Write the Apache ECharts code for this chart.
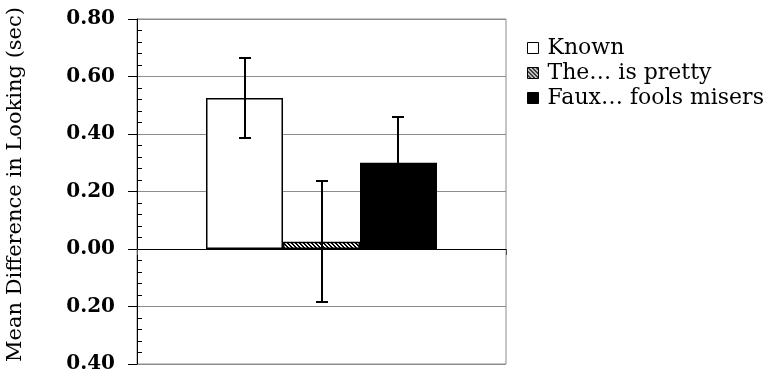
<!DOCTYPE html>
<html><head><meta charset="utf-8">
<script src="https://cdn.jsdelivr.net/npm/echarts@6/dist/echarts.min.js"></script>
<style>html,body{margin:0;padding:0;background:#fff}#c{width:783px;height:376px}</style>
</head><body><div id="c"></div>
<script>
const categories = [''];
const seriesNames = ['Known', 'The… is pretty', 'Faux… fools misers'];
const means = [0.525, 0.025, 0.30];
const errors = [0.14, 0.21, 0.16];
const yMin = -0.4, yMax = 0.8, yStep = 0.2;
const axisTitle = 'Mean Difference in Looking (sec)';

function hatchCanvas() {
  const c = document.createElement('canvas'); c.width = 4; c.height = 4;
  const ctx = c.getContext('2d');
  ctx.fillStyle = '#fff'; ctx.fillRect(0, 0, 4, 4);
  ctx.fillStyle = '#000';
  for (let y = 0; y < 4; y++) for (let x = 0; x < 4; x++) {
    if ((((x - y) % 4) + 4) % 4 < 2) ctx.fillRect(x, y, 1, 1);
  }
  return c;
}
const fills = ['#ffffff', { image: hatchCanvas(), repeat: 'repeat' }, '#000000'];
const GAP = 0.374;
const serif = 'DejaVu Serif';

const chart = echarts.init(document.getElementById('c'), null, { renderer: 'canvas' });

const barSeries = seriesNames.map((n, i) => ({
  name: n, type: 'bar', data: [means[i]],
  barGap: '0%', barCategoryGap: (GAP * 100) + '%',
  itemStyle: { color: fills[i], borderColor: '#000', borderWidth: 1.5 },
  emphasis: { disabled: true }, animation: false
}));

const errData = means.map((m, i) => [0, m, errors[i], i]);

chart.setOption({
  animation: false,
  grid: { left: 137, right: 277, top: 19, bottom: 12, show: true, borderColor: '#8c8c8c', borderWidth: 1, containLabel: false },
  legend: {
    orient: 'vertical', left: 522, top: 31, itemWidth: 11, itemHeight: 11, itemGap: 1,
    icon: 'rect',
    data: seriesNames,
    textStyle: { fontFamily: serif, fontSize: 22, color: '#000', lineHeight: 24, padding: [0, 0, 0, 4] },
    itemStyle: { borderColor: '#000', borderWidth: 1 }
  },
  xAxis: {
    type: 'category', data: categories,
    axisLine: { onZero: true, lineStyle: { color: '#000', width: 1 } },
    axisTick: { show: true, length: 6, lineStyle: { color: '#555' } },
    axisLabel: { show: false }, splitLine: { show: false }
  },
  yAxis: [{
    type: 'value', position: 'left', min: yMin, max: yMax, interval: yStep,
    name: axisTitle, nameLocation: 'middle', nameGap: 111,
    nameTextStyle: { fontFamily: serif, fontSize: 21, color: '#000', padding: [0, 0, 0, 14] },
    axisLine: { show: true, lineStyle: { color: '#000', width: 1 } },
    axisTick: { show: true, length: 9, lineStyle: { color: '#000' } },
    axisLabel: { margin: 22, fontFamily: serif, fontWeight: 'bold', fontSize: 20, color: '#000',
      formatter: v => Math.abs(v).toFixed(2) },
    splitLine: { show: true, lineStyle: { color: '#8c8c8c', width: 1 } }
  }, {
    type: 'value', position: 'left', min: yMin, max: yMax, interval: yStep,
    axisLine: { show: false }, axisLabel: { show: false }, splitLine: { show: false },
    axisTick: { show: false, inside: true },
    minorTick: { show: true, splitNumber: 5, length: 5, lineStyle: { color: '#000', width: 1 } }
  }],
  series: barSeries.concat([{
    type: 'custom', data: errData, encode: { x: 0, y: 1 }, z: 10, silent: true,
    renderItem: function (params, api) {
      const idx = api.value(3), m = api.value(1), e = api.value(2);
      const c = api.coord([api.value(0), 0]);
      const band = api.size([1, 0])[0];
      const barW = band * (1 - GAP) / 3;
      const x = Math.round(c[0] + (idx - 1) * barW);
      const yt = Math.round(api.coord([0, m + e])[1]);
      const yb = Math.round(api.coord([0, m - e])[1]);
      const cap = 6;
      const st = { stroke: '#000', lineWidth: 2 };
      return { type: 'group', children: [
        { type: 'line', shape: { x1: x, y1: yt, x2: x, y2: yb }, style: st },
        { type: 'line', shape: { x1: x - cap, y1: yt, x2: x + cap, y2: yt }, style: st },
        { type: 'line', shape: { x1: x - cap, y1: yb, x2: x + cap, y2: yb }, style: st }
      ]};
    }
  }])
});
</script></body></html>
